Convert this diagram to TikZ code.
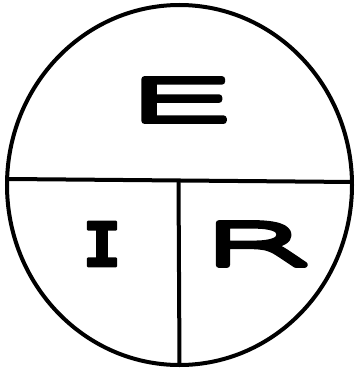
\documentclass[tikz,border=0pt]{standalone}
\usepackage{fontspec}
\usetikzlibrary{shapes.geometric}
\newfontfamily\ltrE[FakeStretch=3.3,FakeBold=11]{DejaVu Sans ExtraLight}
\newfontfamily\ltrR[FakeStretch=2.9,FakeBold=11]{DejaVu Sans ExtraLight}
\newfontfamily\ltrI[FakeStretch=1.05,FakeBold=4]{DejaVu Sans Mono}
\tikzset{
  ring/.style={draw, ellipse, line width=4pt, inner sep=0pt, outer sep=0pt},
  rule/.style={line width=4pt},
  letter/.style={inner sep=0pt, line join=round, text=black},
}
\begin{document}
\begin{tikzpicture}[x=1pt,y=-1pt]
\useasboundingbox (0,0) rectangle (355,372);
\node[ring, minimum width=345pt, minimum height=360pt] (c) at (179.5,185) {};
\coordinate (t) at (178.5,179.5);
\draw[rule] (c.178.25) -- (c.1.75);
\draw[rule] (t) -- (c.south);
\node[letter] (e) at (181,100) {\fontsize{57}{60}\selectfont\ltrE E};
\node[letter] (i) at (102,244) {\fontsize{61}{66}\selectfont\ltrI\bfseries I};
\node[letter] (r) at (256,244) {\fontsize{57}{60}\selectfont\ltrR R};
\end{tikzpicture}
\end{document}
